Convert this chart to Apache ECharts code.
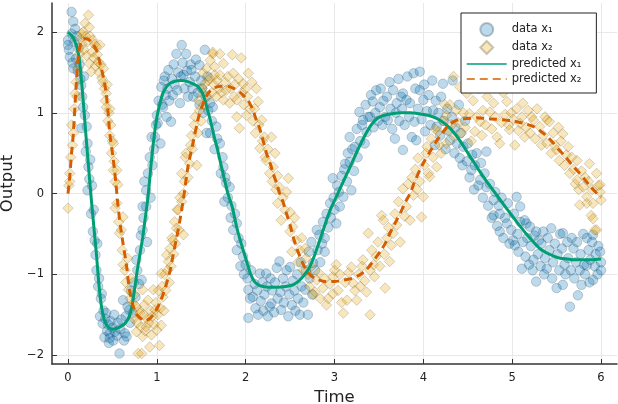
<!DOCTYPE html>
<html>
<head>
<meta charset="utf-8">
<script src="https://cdn.jsdelivr.net/npm/echarts@6/dist/echarts.min.js"></script>
<style>
html,body{margin:0;padding:0;background:#fff;}
#chart{width:618px;height:404px;}
</style>
</head>
<body>
<div id="chart"></div>
<script>
// ---- data ----
const seriesNames = ['data x₁', 'data x₂', 'predicted x₁', 'predicted x₂'];
const xTickLabels = ['0', '1', '2', '3', '4', '5', '6'];
const yTickLabels = ['−2', '−1', '0', '1', '2'];

// observed x1 (time, value)
const dataX1 = [
[0,1.9],[0,1.84],[0.01,1.78],[0.02,1.69],[0.04,2.25],[0.04,1.98],[0.05,1.62],[0.06,2.13],[0.06,1.55],[0.07,1.88],[0.08,2.04],[0.09,1.67],[0.1,1.95],[0.11,1.52],[0.12,1.8],[0.13,1.6],[0.14,1.42],[0.15,1.34],[0.15,0.81],[0.16,1.2],[0.17,1.07],[0.18,1.45],[0.19,0.97],[0.2,0.52],[0.21,0.83],[0.22,0.04],[0.22,0.62],[0.23,0.33],[0.24,0.18],[0.25,0.42],[0.26,-0.25],[0.27,0.1],[0.28,-0.47],[0.29,-0.2],[0.3,-0.58],
[0.31,-0.76],[0.32,-0.95],[0.33,-0.62],[0.34,-1.15],[0.35,-1.05],[0.36,-1.52],[0.37,-1.3],[0.38,-1.24],[0.39,-1.61],[0.4,-1.45],[0.41,-1.78],[0.42,-1.55],[0.43,-1.48],[0.44,-1.7],[0.45,-1.62],[0.46,-1.85],[0.47,-1.73],[0.47,-1.79],[0.48,-1.58],[0.5,-1.66],[0.51,-1.82],[0.52,-1.5],[0.53,-1.71],[0.55,-1.76],[0.56,-1.6],[0.58,-1.98],[0.59,-1.68],[0.6,-1.56],[0.62,-1.32],[0.63,-1.82],[0.64,-1.73],[0.65,-1.52],[0.66,-1.77],[0.67,-1.4],[0.69,-1.44],[0.7,-1.6],[0.71,-1.2],[0.73,-1.48],[0.74,-1.1],[0.76,-1.28],[0.77,-0.82],[0.78,-0.95],[0.8,-1.12],[0.81,-0.7],[0.82,-0.52],[0.83,-1.07],[0.84,-0.45],[0.84,-0.16],[0.85,-0.3],[0.86,0.15],[0.88,-0.16],[0.88,0.04],[0.89,-0.6],
[0.9,0.25],[0.92,0.45],[0.93,-0.05],[0.94,0.7],[0.95,0.35],[0.97,0.55],[0.98,0.7],[0.99,0.85],[1.0,0.97],[1.01,0.87],[1.02,1.15],[1.04,0.62],[1.05,1.32],[1.06,1.1],[1.07,1.07],[1.08,1.4],[1.09,1.45],[1.1,1.22],[1.11,0.95],[1.12,1.3],[1.13,1.53],[1.14,1.15],[1.16,0.89],[1.17,1.42],[1.18,1.22],[1.19,1.6],[1.2,1.35],[1.22,1.73],[1.23,1.28],[1.24,1.5],[1.26,1.12],[1.27,1.45],[1.28,1.84],[1.29,1.62],[1.3,1.47],[1.31,1.3],[1.33,1.73],[1.34,1.52],[1.35,1.2],[1.37,1.38],[1.38,1.6],[1.39,1.53],[1.4,1.3],[1.41,1.2],[1.43,1.45],[1.44,1.66],[1.46,1.25],[1.48,1.59],[1.48,1.1],[1.5,1.4],[1.51,1.3],[1.52,1.0],[1.54,1.78],[1.55,1.2],[1.56,0.75],[1.57,1.45],[1.58,1.03],[1.6,0.75],[1.6,1.12],
[1.62,0.9],[1.63,1.07],[1.65,0.55],[1.67,0.83],[1.68,0.68],[1.71,0.62],[1.72,0.25],[1.74,0.45],[1.75,0.33],[1.76,-0.1],[1.77,0.2],[1.78,0.13],[1.8,-0.05],[1.82,0.08],[1.83,-0.3],[1.84,-0.15],[1.86,-0.45],[1.88,-0.25],[1.9,-0.37],[1.9,-0.7],[1.92,-0.55],[1.94,-0.9],[1.95,-0.62],[1.97,-0.78],[1.98,-1.0],[2.0,-0.88],
[2.02,-1.05],[2.03,-1.19],[2.03,-1.54],[2.05,-1.3],[2.06,-0.95],[2.08,-1.28],[2.1,-1.12],[2.11,-1.42],[2.13,-1.2],[2.14,-1.5],[2.16,-0.99],[2.17,-1.33],[2.19,-1.1],[2.2,-1.45],[2.21,-1.25],[2.23,-0.99],[2.24,-1.15],[2.25,-1.52],[2.27,-1.4],[2.28,-1.05],[2.29,-1.36],[2.3,-1.2],[2.32,-1.47],[2.33,-1.1],[2.35,-0.92],[2.36,-1.3],[2.38,-0.84],[2.39,-1.22],[2.4,-1.44],[2.42,-1.05],[2.43,-1.35],[2.45,-1.15],[2.46,-0.95],[2.48,-1.52],[2.49,-1.25],[2.5,-0.91],[2.52,-1.38],[2.53,-1.08],[2.55,-1.2],[2.56,-1.45],[2.58,-1.0],[2.59,-1.3],[2.61,-1.5],[2.62,-0.85],[2.63,-1.15],[2.65,-1.35],[2.67,-1.19],[2.68,-0.95],[2.7,-1.5],[2.71,-0.72],[2.72,-1.05],[2.74,-0.6],[2.75,-1.25],[2.76,-0.86],[2.78,-0.95],[2.8,-0.45],[2.81,-0.7],[2.83,-0.51],[2.84,-0.85],[2.86,-0.62],[2.87,-0.35],[2.89,-0.55],[2.89,-0.72],
[2.91,-0.25],[2.93,-0.42],[2.95,-0.12],[2.96,-0.3],[2.98,0.19],[2.99,-0.05],[3.0,-0.2],[3.02,-0.37],[3.03,0.1],[3.05,0.02],[3.06,-0.16],[3.08,0.22],[3.1,-0.04],[3.11,0.3],[3.12,0.37],[3.14,0.15],[3.15,0.5],[3.17,0.39],[3.17,0.7],[3.19,0.04],[3.2,0.55],[3.22,0.28],[3.23,0.58],[3.25,0.8],[3.26,0.45],[3.28,1.01],[3.29,0.65],[3.31,0.85],[3.32,0.91],[3.34,0.62],[3.35,1.1],[3.36,0.76],[3.38,0.95],[3.4,0.95],[3.41,1.22],[3.43,1.14],[3.44,0.82],[3.46,1.0],[3.47,1.28],[3.49,0.9],[3.51,1.07],[3.52,1.3],[3.54,0.85],[3.55,1.15],[3.57,0.95],[3.59,1.2],[3.6,0.91],[3.62,1.38],[3.63,1.05],[3.65,0.8],[3.66,1.28],[3.68,0.68],[3.69,1.0],[3.7,1.12],
[3.72,1.42],[3.73,0.9],[3.75,1.2],[3.76,1.05],[3.77,1.24],[3.77,0.54],[3.79,0.85],[3.81,1.16],[3.82,1.45],[3.84,0.95],[3.85,1.12],[3.87,0.7],[3.89,1.49],[3.9,0.89],[3.91,1.3],[3.92,0.66],[3.94,1.05],[3.96,1.51],[3.96,1.28],[3.98,0.92],[4.0,1.16],[4.01,1.35],[4.02,0.77],[4.04,1.02],[4.06,1.22],[4.08,0.85],[4.1,1.4],[4.11,1.03],[4.13,0.6],[4.14,1.15],[4.15,0.83],[4.17,1.0],[4.19,0.72],[4.2,1.2],[4.22,1.36],[4.23,0.9],[4.25,0.55],[4.27,1.05],[4.28,0.78],[4.3,0.66],[4.32,0.95],[4.33,1.4],[4.35,0.5],[4.36,0.82],[4.38,0.62],[4.4,1.1],[4.41,0.44],[4.42,0.75],[4.44,0.35],[4.45,0.58],[4.47,0.9],[4.49,0.4],
[4.5,0.62],[4.52,0.2],[4.54,0.29],[4.55,0.48],[4.57,0.05],[4.58,0.35],[4.6,0.5],[4.62,0.1],[4.64,0.17],[4.65,0.38],[4.67,-0.05],[4.69,0.25],[4.71,0.52],[4.71,0.08],[4.73,-0.15],[4.75,0.12],[4.77,-0.3],[4.79,-0.08],[4.79,-0.27],[4.81,0.02],[4.83,-0.4],[4.85,-0.15],[4.86,-0.25],[4.86,-0.47],[4.88,-0.05],[4.9,-0.55],[4.92,-0.3],[4.94,-0.37],[4.95,-0.12],[4.97,-0.62],[4.99,-0.45],
[5.01,-0.58],[5.02,-0.25],[5.03,-0.64],[5.05,-0.04],[5.06,-0.5],[5.07,-0.72],[5.09,-0.16],[5.09,-0.35],[5.11,-0.93],[5.12,-0.6],[5.14,-0.33],[5.15,-0.78],[5.16,-0.37],[5.17,-0.55],[5.19,-0.88],[5.2,-0.41],[5.21,-0.65],[5.23,-0.95],[5.24,-0.82],[5.25,-0.52],[5.27,-0.47],[5.27,-1.09],[5.29,-0.75],[5.3,-0.58],[5.32,-0.9],[5.33,-0.62],[5.35,-0.47],[5.36,-1.0],[5.37,-0.8],[5.39,-0.93],[5.4,-0.55],[5.42,-0.7],[5.44,-0.43],[5.45,-1.05],[5.46,-0.85],[5.48,-0.62],[5.5,-1.17],[5.51,-0.75],[5.53,-0.95],[5.54,-0.5],[5.56,-0.68],[5.57,-0.49],[5.57,-1.13],[5.59,-0.88],[5.6,-1.0],[5.62,-0.6],[5.63,-0.8],[5.65,-1.4],[5.66,-0.95],[5.67,-0.55],[5.69,-0.68],[5.7,-1.05],[5.72,-0.85],[5.73,-0.6],[5.74,-1.26],[5.76,-0.95],[5.77,-0.75],[5.78,-1.13],[5.8,-0.5],[5.81,-0.88],[5.82,-1.0],[5.84,-0.55],[5.84,-0.89],[5.86,-0.7],[5.87,-1.1],[5.88,-0.82],[5.9,-0.6],[5.91,-0.51],[5.91,-1.07],[5.93,-0.9],[5.94,-0.75],[5.96,-1.0],[5.97,-0.65],[5.99,-0.72],[6.0,-0.95],[6.0,-0.85]
];

// observed x2 (time, value)
const dataX2 = [
[0,-0.18],[0.01,0.1],[0.02,0.25],[0.02,0.15],[0.03,0.45],[0.04,0.85],[0.05,0.6],[0.06,0.75],[0.07,1.05],[0.08,1.24],[0.09,1.38],[0.1,1.2],[0.11,1.55],[0.12,1.65],[0.13,1.73],[0.14,1.92],[0.15,1.98],[0.16,1.85],[0.17,2.0],[0.18,1.78],[0.19,2.11],[0.2,1.95],[0.21,1.71],[0.22,1.88],[0.23,2.21],[0.24,2.06],[0.24,1.61],[0.25,1.95],[0.26,1.51],[0.27,1.75],[0.28,1.9],[0.29,1.68],[0.3,1.85],[0.31,1.58],[0.32,1.82],[0.33,1.72],[0.34,1.63],[0.35,1.5],[0.36,1.84],[0.37,1.6],[0.38,1.43],[0.39,1.38],[0.4,1.55],[0.41,1.3],[0.42,1.15],[0.43,1.24],[0.43,1.07],[0.44,1.35],[0.45,0.9],[0.46,1.0],[0.47,1.05],[0.47,0.72],[0.48,0.85],[0.49,0.5],[0.5,0.65],[0.51,0.62],[0.51,0.29],[0.52,0.4],[0.53,0.15],[0.55,0.29],[0.56,0.11],
[0.53,-0.18],[0.55,-0.12],[0.57,-0.35],[0.58,-0.49],[0.6,-0.45],[0.61,-0.7],[0.62,-0.29],[0.62,-0.88],[0.64,-0.95],[0.65,-1.1],[0.67,-0.8],[0.68,-1.19],[0.7,-1.3],[0.71,-1.05],[0.73,-1.36],[0.74,-1.55],[0.75,-1.25],[0.77,-1.4],[0.77,-1.71],[0.78,-1.6],[0.79,-1.98],[0.8,-1.45],[0.81,-1.48],[0.82,-1.65],[0.83,-1.98],[0.84,-1.77],[0.84,-1.19],[0.85,-1.5],[0.86,-1.38],[0.87,-1.7],[0.88,-1.65],[0.89,-1.55],[0.9,-1.32],[0.91,-1.6],[0.92,-1.9],[0.93,-1.45],[0.94,-1.75],[0.95,-1.52],[0.96,-1.19],[0.97,-1.62],[0.98,-1.44],[0.99,-1.35],[1.0,-1.69],[1.01,-1.5],[1.02,-1.2],[1.03,-1.88],[1.04,-1.42],[1.05,-1.63],[1.05,-0.99],[1.06,-1.15],[1.07,-1.28],[1.08,-1.45],[1.09,-1.0],[1.1,-1.2],[1.11,-0.76],[1.12,-0.95],[1.13,-0.84],[1.14,-1.1],[1.15,-0.68],[1.16,-0.9],[1.17,-0.55],[1.18,-0.58],[1.19,-0.75],[1.2,-0.35],[1.21,-0.62],[1.22,-0.43],[1.23,-0.2],[1.24,-0.2],[1.25,-0.45],[1.26,-0.05],[1.28,-0.1],[1.3,-0.51],
[1.28,0.25],[1.3,0.0],[1.31,0.15],[1.32,0.45],[1.33,0.5],[1.35,0.2],[1.37,0.37],[1.38,0.6],[1.39,0.72],[1.4,0.55],[1.42,0.85],[1.43,0.95],[1.45,0.35],[1.46,0.75],[1.47,1.15],[1.48,1.03],[1.5,0.9],[1.51,1.3],[1.52,1.24],[1.52,1.49],[1.53,1.1],[1.54,1.36],[1.56,1.55],[1.57,1.2],[1.58,1.4],[1.6,1.65],[1.6,1.43],[1.62,1.25],[1.63,1.73],[1.63,1.75],[1.64,1.35],[1.65,1.57],[1.65,1.47],[1.67,1.2],[1.68,1.4],[1.7,1.3],[1.71,1.73],[1.71,1.47],[1.73,1.25],[1.75,1.61],[1.75,1.16],[1.77,1.38],[1.78,1.28],[1.8,1.45],[1.82,1.12],[1.83,1.3],[1.85,1.72],[1.86,1.49],[1.87,1.2],[1.88,1.35],[1.9,1.16],[1.9,0.95],[1.92,1.42],[1.93,0.81],[1.95,1.68],[1.96,1.25],[1.97,1.36],[1.98,1.1],[2.0,1.3],[2.01,0.97],[2.02,1.2],[2.03,1.49],[2.05,1.05],[2.07,1.38],[2.08,0.9],[2.1,1.05],[2.11,0.75],[2.12,1.3],[2.14,1.14],[2.15,0.85],[2.16,0.56],[2.18,0.91],[2.19,0.65],[2.21,0.7],[2.22,0.45],[2.23,0.41],[2.25,0.55],[2.27,0.25],[2.29,0.7],[2.3,0.15],[2.31,0.33],[2.33,0.5],[2.34,0.05],[2.36,0.22],[2.38,0.08],
[2.36,-0.12],[2.4,-0.33],[2.42,-0.05],[2.44,-0.2],[2.46,0.02],[2.48,0.19],[2.5,-0.23],[2.5,-0.47],[2.52,-0.72],[2.53,-0.41],[2.55,-0.3],[2.57,-0.58],[2.59,-0.85],[2.61,-0.7],[2.63,-0.55],[2.65,-0.95],[2.67,-0.68],[2.68,-0.8],[2.7,-1.0],[2.72,-1.15],[2.74,-0.9],[2.76,-1.25],[2.78,-1.22],[2.8,-1.07],[2.82,-0.98],[2.84,-1.3],[2.87,-1.17],[2.89,-1.05],[2.91,-1.38],[2.93,-1.3],[2.95,-1.12],[2.98,-1.24],[2.98,-1.03],[3.0,-0.95],[3.02,-0.88],[3.04,-1.2],[3.06,-1.0],[3.08,-1.35],[3.1,-1.48],[3.12,-1.1],[3.14,-1.32],[3.16,-0.98],[3.19,-0.91],[3.21,-1.11],[3.23,-1.2],[3.25,-1.32],[3.27,-1.0],[3.29,-1.15],[3.31,-0.9],[3.32,-0.82],[3.34,-1.08],[3.36,-1.22],[3.38,-0.49],[3.4,-1.5],[3.4,-0.95],[3.42,-0.7],[3.44,-0.88],[3.45,-1.03],[3.47,-0.78],[3.49,-0.6],[3.51,-0.9],[3.53,-0.27],[3.55,-0.33],[3.56,-0.75],[3.57,-1.17],[3.59,-0.55],[3.61,-0.42],[3.62,-0.84],[3.64,-0.64],[3.66,-0.49],[3.68,-0.25],[3.7,-0.39],[3.72,-0.1],[3.74,-0.6],
[3.77,0.06],[3.79,-0.28],[3.81,-0.16],[3.83,0.12],[3.85,-0.33],[3.87,0.2],[3.89,-0.02],[3.91,0.3],[3.93,0.05],[3.94,0.44],[3.96,0.15],[3.98,-0.29],[4.0,-0.04],[4.01,0.35],[4.03,0.5],[4.04,0.58],[4.06,0.25],[4.07,0.21],[4.09,0.68],[4.11,0.45],[4.13,0.8],[4.15,0.33],[4.17,0.77],[4.18,0.6],[4.2,0.5],[4.22,0.9],[4.24,1.1],[4.26,0.62],[4.26,0.97],[4.28,0.78],[4.3,1.1],[4.32,0.85],[4.34,1.45],[4.35,0.7],[4.37,1.03],[4.39,0.88],[4.41,1.32],[4.43,0.75],[4.45,1.0],[4.47,0.82],[4.49,1.24],
[4.52,0.99],[4.54,0.65],[4.56,1.15],[4.58,0.77],[4.6,0.95],[4.62,1.3],[4.64,0.89],[4.66,0.72],[4.67,1.03],[4.7,0.85],[4.72,1.2],[4.75,1.01],[4.77,0.8],[4.79,1.12],[4.81,0.95],[4.83,0.7],[4.86,0.62],[4.88,0.88],[4.9,1.25],[4.92,0.98],[4.94,1.14],[4.96,0.85],[4.97,0.79],[4.99,1.0],[5.01,0.92],[5.03,0.6],[5.05,1.05],[5.07,0.78],[5.09,0.87],[5.11,0.95],[5.12,1.12],[5.14,0.7],[5.16,0.82],[5.18,1.03],[5.2,0.75],[5.22,0.95],[5.24,0.91],[5.26,0.68],[5.28,1.05],[5.31,0.83],[5.33,0.6],[5.35,0.72],[5.37,0.95],[5.39,0.91],[5.39,0.62],[5.42,0.89],[5.44,0.5],[5.46,0.75],[5.48,0.6],[5.5,0.54],[5.52,0.82],[5.53,0.41],[5.55,0.65],[5.57,0.74],[5.59,0.35],[5.61,0.48],[5.63,0.58],[5.65,0.25],[5.67,0.45],[5.69,0.3],[5.71,0.12],[5.73,0.17],[5.73,0.41],[5.75,0.05],[5.76,-0.14],[5.78,0.28],[5.8,0.08],[5.82,0.2],[5.84,-0.12],[5.84,-0.04],[5.86,0.15],[5.87,0.37],[5.89,-0.27],[5.9,0.05],[5.91,-0.12],[5.91,-0.31],[5.93,-0.45],[5.95,0.25],[5.95,-0.45],[5.97,0.1],[5.99,0.02],[5.99,0.11],[6.0,-0.08]
];

// predicted x1 curve (time, value)
const predX1 = [
[0,2.0],[0.06,1.93],[0.12,1.72],[0.16,1.3],[0.2,0.75],[0.23,0.35],[0.26,-0.04],[0.29,-0.4],[0.32,-0.75],[0.35,-1.15],[0.38,-1.42],[0.42,-1.6],[0.46,-1.66],[0.51,-1.68],[0.57,-1.66],[0.64,-1.61],[0.69,-1.52],[0.72,-1.40],[0.75,-1.18],[0.78,-0.95],[0.81,-0.75],[0.84,-0.55],[0.87,-0.3],[0.9,-0.05],[0.93,0.3],[0.96,0.62],[1.0,0.94],[1.04,1.14],[1.08,1.27],[1.14,1.36],[1.2,1.39],[1.27,1.40],[1.34,1.39],[1.41,1.36],[1.46,1.33],[1.5,1.27],[1.53,1.2],[1.56,1.08],[1.6,0.92],[1.64,0.73],[1.68,0.56],[1.72,0.37],[1.76,0.18],[1.8,0.0],[1.85,-0.17],[1.9,-0.42],[1.95,-0.62],[2.0,-0.8],[2.05,-0.98],[2.1,-1.09],[2.16,-1.14],[2.25,-1.16],[2.35,-1.16],[2.45,-1.15],[2.53,-1.13],[2.6,-1.08],[2.66,-1.01],[2.72,-0.91],[2.78,-0.75],[2.84,-0.56],[2.9,-0.36],[2.96,-0.18],[3.02,-0.04],[3.1,0.15],[3.2,0.39],[3.3,0.63],[3.4,0.83],[3.48,0.93],[3.56,0.97],[3.65,0.99],[3.75,1.0],[3.85,1.0],[3.95,0.99],[4.05,0.97],[4.13,0.94],[4.2,0.9],[4.27,0.84],[4.34,0.76],[4.41,0.66],[4.48,0.54],[4.55,0.42],[4.62,0.3],[4.7,0.17],[4.78,0.05],[4.86,-0.07],[4.94,-0.19],[5.01,-0.29],[5.08,-0.39],[5.16,-0.5],[5.24,-0.6],[5.31,-0.68],[5.38,-0.73],[5.46,-0.77],[5.54,-0.8],[5.62,-0.81],[5.7,-0.82],[5.8,-0.82],[5.9,-0.82],[6.0,-0.81]
];

// predicted x2 curve (time, value)
const predX2 = [
[0,0.0],[0.02,0.21],[0.04,0.5],[0.06,0.74],[0.09,1.3],[0.11,1.62],[0.13,1.8],[0.16,1.9],[0.19,1.92],[0.24,1.9],[0.28,1.85],[0.32,1.78],[0.35,1.66],[0.38,1.53],[0.41,1.38],[0.43,1.24],[0.45,1.02],[0.47,0.75],[0.51,0.42],[0.54,0.12],[0.56,-0.12],[0.59,-0.4],[0.62,-0.62],[0.66,-0.9],[0.69,-1.18],[0.73,-1.38],[0.77,-1.49],[0.81,-1.54],[0.85,-1.57],[0.88,-1.57],[0.92,-1.55],[0.96,-1.50],[1.0,-1.43],[1.03,-1.36],[1.07,-1.25],[1.11,-1.11],[1.15,-0.95],[1.18,-0.78],[1.22,-0.56],[1.26,-0.33],[1.3,-0.06],[1.35,0.33],[1.41,0.64],[1.45,0.85],[1.48,0.99],[1.52,1.11],[1.56,1.21],[1.6,1.27],[1.65,1.31],[1.72,1.33],[1.8,1.33],[1.87,1.3],[1.93,1.26],[1.98,1.21],[2.03,1.15],[2.08,1.04],[2.12,0.91],[2.16,0.8],[2.2,0.64],[2.24,0.48],[2.28,0.36],[2.31,0.25],[2.35,0.12],[2.38,0.01],[2.42,-0.1],[2.46,-0.25],[2.5,-0.39],[2.53,-0.52],[2.57,-0.66],[2.61,-0.78],[2.65,-0.88],[2.69,-0.96],[2.74,-1.02],[2.8,-1.06],[2.9,-1.09],[3.0,-1.09],[3.1,-1.07],[3.2,-1.05],[3.28,-1.01],[3.34,-0.96],[3.4,-0.89],[3.46,-0.8],[3.52,-0.71],[3.57,-0.62],[3.62,-0.5],[3.68,-0.37],[3.75,-0.22],[3.8,-0.1],[3.85,0.0],[3.9,0.14],[3.96,0.29],[4.02,0.42],[4.07,0.51],[4.13,0.62],[4.19,0.72],[4.25,0.8],[4.3,0.86],[4.36,0.9],[4.42,0.92],[4.5,0.93],[4.6,0.94],[4.7,0.93],[4.82,0.92],[4.92,0.91],[5.01,0.9],[5.09,0.88],[5.16,0.86],[5.24,0.83],[5.3,0.79],[5.36,0.74],[5.41,0.69],[5.46,0.63],[5.52,0.55],[5.58,0.48],[5.64,0.4],[5.7,0.32],[5.76,0.25],[5.82,0.17],[5.87,0.1],[5.93,0.03],[6.0,-0.05]
];

const FONT = 'DejaVu Sans';
const chart = echarts.init(document.getElementById('chart'), null, {renderer: 'canvas'});

function fmtTick(v) {
  const r = Math.round(v);
  if (Math.abs(v - r) > 1e-6) return '';
  return String(r).replace('-', '\u2212');
}

const option = {
  animation: false,
  backgroundColor: '#ffffff',
  grid: {left: 52, right: 1, top: 3, bottom: 40, containLabel: false, outerBoundsMode: 'none'},
  legend: {
    orient: 'vertical',
    left: 461, top: 13,
    backgroundColor: '#ffffff',
    borderColor: '#222',
    borderWidth: 1,
    borderRadius: 0,
    padding: [9, 15, 8, 5],
    itemWidth: 40, itemHeight: 13, itemGap: 3,
    symbolKeepAspect: true,
    textStyle: {fontFamily: FONT, fontSize: 11.5, color: '#222'},
    data: [
      {name: seriesNames[0], icon: 'circle'},
      {name: seriesNames[1], icon: 'path://M0,-1L1,0L0,1L-1,0Z', symbolKeepAspect: true},
      {name: seriesNames[2], lineStyle: {width: 1.5}, itemStyle: {opacity: 0}},
      {name: seriesNames[3], lineStyle: {width: 1.5}, itemStyle: {opacity: 0}}
    ]
  },
  xAxis: {
    type: 'value', min: -0.18, max: 6.18, minInterval: 1, maxInterval: 1,
    name: 'Time', nameLocation: 'middle', nameGap: 22,
    nameTextStyle: {fontFamily: FONT, fontSize: 16.5, color: '#222'},
    axisLine: {show: true, onZero: false, lineStyle: {color: '#333', width: 1.5}},
    axisTick: {show: true, inside: true, length: 5, lineStyle: {color: '#333', width: 1}},
    axisLabel: {showMinLabel: false, showMaxLabel: false, margin: 8, fontFamily: FONT, fontSize: 11.5, color: '#222', formatter: fmtTick},
    splitLine: {show: true, showMinLine: false, showMaxLine: false, lineStyle: {color: '#e8e8e8', width: 1}}
  },
  yAxis: {
    type: 'value', min: -2.11, max: 2.36, minInterval: 1, maxInterval: 1,
    name: 'Output', nameLocation: 'middle', nameGap: 34,
    nameTextStyle: {fontFamily: FONT, fontSize: 16.5, color: '#222'},
    axisLine: {show: true, onZero: false, lineStyle: {color: '#333', width: 1.5}},
    axisTick: {show: true, inside: true, length: 5, lineStyle: {color: '#333', width: 1}},
    axisLabel: {showMinLabel: false, showMaxLabel: false, margin: 8, fontFamily: FONT, fontSize: 11.5, color: '#222', formatter: fmtTick},
    splitLine: {show: true, showMinLine: false, showMaxLine: false, lineStyle: {color: '#e8e8e8', width: 1}}
  },
  series: [
    {
      name: seriesNames[0], type: 'scatter', data: dataX1,
      symbol: 'circle', symbolSize: 9.5,
      itemStyle: {color: 'rgba(0,114,178,0.33)', borderColor: 'rgba(20,45,70,0.35)', borderWidth: 0.8},
      z: 2
    },
    {
      name: seriesNames[1], type: 'scatter', data: dataX2,
      symbol: 'diamond', symbolSize: 10.5,
      itemStyle: {color: 'rgba(230,159,0,0.33)', borderColor: 'rgba(70,50,10,0.32)', borderWidth: 0.8},
      z: 3
    },
    {
      name: seriesNames[2], type: 'line', data: predX1,
      showSymbol: false, symbol: 'none', smooth: 0.2,
      lineStyle: {color: '#009E73', width: 3},
      itemStyle: {color: '#009E73'},
      z: 4
    },
    {
      name: seriesNames[3], type: 'line', data: predX2,
      showSymbol: false, symbol: 'none', smooth: 0.2,
      lineStyle: {color: '#D55E00', width: 3, type: [8, 5]},
      itemStyle: {color: '#D55E00'},
      z: 5
    }
  ]
};
chart.setOption(option);
</script>
</body>
</html>
